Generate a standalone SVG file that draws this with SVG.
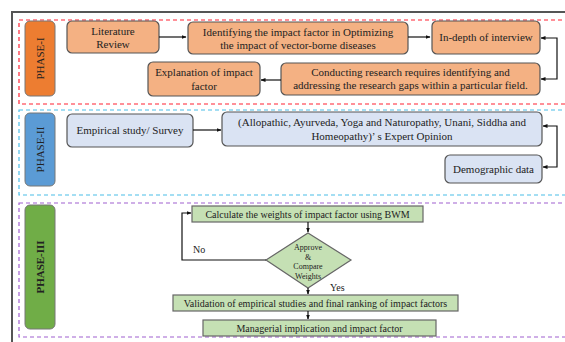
<svg xmlns="http://www.w3.org/2000/svg" width="565" height="342" viewBox="0 0 565 342">
<defs>
<marker id="ah" viewBox="0 0 10 10" refX="9" refY="5" markerWidth="5" markerHeight="5" orient="auto-start-reverse" markerUnits="userSpaceOnUse">
<path d="M0,1 L10,5 L0,9 Z" fill="#111"/>
</marker>
<style>
text{font-family:"Liberation Serif","Times New Roman",serif;fill:#222;}
.t{font-size:11px;text-anchor:middle;}
.s{font-size:10px;text-anchor:middle;}
.d{font-size:8px;text-anchor:middle;}
.ph{font-size:11px;text-anchor:middle;}
.o{fill:#F4B183;stroke:#555;stroke-width:1.2;}
.b{fill:#DAE3F3;stroke:#555;stroke-width:1.2;}
.g{fill:#C5E0B4;stroke:#666;stroke-width:1.2;}
.c{fill:none;stroke:#111;stroke-width:1.2;}
</style>
</defs>
<rect width="565" height="342" fill="#fff"/>
<path d="M12,342 V12 H565" fill="none" stroke="#555" stroke-width="2"/>
<g id="phase1-frame"><rect x="19" y="20" width="560" height="84" fill="none" stroke="#F23" stroke-width="1.2" stroke-dasharray="4,3"/></g>
<g id="phase2-frame"><rect x="19" y="110" width="560" height="85" fill="none" stroke="#4BBDE8" stroke-width="1.2" stroke-dasharray="4,3"/></g>
<g id="phase3-frame"><rect x="19" y="203" width="560" height="134" fill="none" stroke="#A060D0" stroke-width="1.2" stroke-dasharray="4,3"/></g>

<g id="phase1"><rect x="25" y="21" width="30" height="75" rx="5" fill="#ED7D31" stroke="#777" stroke-width="1"/><text class="ph" transform="translate(44,58.5) rotate(-90)">PHASE-I</text></g>
<g id="lit"><rect class="o" x="67" y="21" width="92" height="32" rx="5"/><text class="t" x="113" y="35">Literature</text><text class="t" x="113" y="48">Review</text></g>
<g id="ident"><rect class="o" x="188" y="22" width="220" height="32" rx="5"/><text class="t" x="298" y="36">Identifying the impact factor in Optimizing</text><text class="t" x="298" y="49">the impact of vector-borne diseases</text></g>
<g id="indepth"><rect class="o" x="432" y="21" width="108" height="33" rx="5"/><text class="t" x="486" y="41">In-depth of interview</text></g>
<g id="conduct"><rect class="o" x="281" y="63" width="259" height="32" rx="5"/><text class="t" x="410.5" y="76">Conducting research requires identifying and</text><text class="t" x="410.5" y="89">addressing the research gaps within a particular field.</text></g>
<g id="explain"><rect class="o" x="148" y="62" width="112" height="34" rx="5"/><text class="t" x="204" y="76">Explanation of impact</text><text class="t" x="204" y="90">factor</text></g>

<g id="phase2"><rect x="25" y="113" width="30" height="73" rx="5" fill="#5B9BD5" stroke="#777" stroke-width="1"/><text class="ph" transform="translate(44,149.5) rotate(-90)">PHASE-II</text></g>
<g id="empirical"><rect class="b" x="67" y="114" width="126" height="33" rx="5"/><text class="t" x="130" y="134">Empirical study/ Survey</text></g>
<g id="expert"><rect class="b" x="222" y="112" width="320" height="34" rx="5"/><text class="t" x="382" y="126">(Allopathic, Ayurveda, Yoga and Naturopathy, Unani, Siddha and</text><text class="t" x="382" y="140">Homeopathy)’ s Expert Opinion</text></g>
<g id="demo"><rect class="b" x="445" y="155" width="97" height="28" rx="5"/><text class="t" x="493.5" y="173">Demographic data</text></g>

<g id="phase3"><rect x="25" y="205" width="30" height="124" rx="5" fill="#70AD47" stroke="#777" stroke-width="1"/><text class="ph" font-weight="bold" transform="translate(44,267) rotate(-90)">PHASE-III</text></g>
<g id="calc"><rect class="g" x="192" y="206" width="231" height="16"/><text class="s" x="307.5" y="217.5">Calculate the weights of impact factor using BWM</text></g>
<g id="decision"><polygon class="g" points="308,233 351,260 308,288 266,260"/><text class="d" x="308" y="250">Approve</text><text class="d" x="308" y="259.5">&amp;</text><text class="d" x="308" y="269">Compare</text><text class="d" x="308" y="279">Weights</text></g>
<g id="valid"><rect class="g" x="173" y="295" width="285" height="16"/><text class="s" x="315.5" y="306.5">Validation of empirical studies and final ranking of impact factors</text></g>
<g id="manage"><rect class="g" x="203" y="320" width="233" height="16"/><text class="s" x="319.5" y="331.5">Managerial implication and impact factor</text></g>

<g id="connectors">
<line class="c" x1="159" y1="37" x2="186" y2="37" marker-end="url(#ah)"/>
<line class="c" x1="408" y1="37" x2="430" y2="37" marker-end="url(#ah)"/>
<path class="c" d="M541,38 H557 V79 H541" marker-start="url(#ah)" marker-end="url(#ah)"/>
<line class="c" x1="281" y1="80" x2="261" y2="80" marker-end="url(#ah)"/>
<line class="c" x1="193" y1="130" x2="221" y2="130" marker-end="url(#ah)"/>
<path class="c" d="M543,126 H557 V167 H543" marker-start="url(#ah)" marker-end="url(#ah)"/>
<line class="c" x1="308" y1="222" x2="308" y2="232" marker-end="url(#ah)"/>
<path class="c" d="M266,260 H182 V213 H191" marker-end="url(#ah)"/>
<line class="c" x1="308" y1="288" x2="308" y2="294" marker-end="url(#ah)"/>
<line class="c" x1="308" y1="311" x2="308" y2="319" marker-end="url(#ah)"/>
<text x="193" y="253" style="font-size:10px">No</text>
<text x="330" y="291" style="font-size:10px">Yes</text>
</g>
</svg>
